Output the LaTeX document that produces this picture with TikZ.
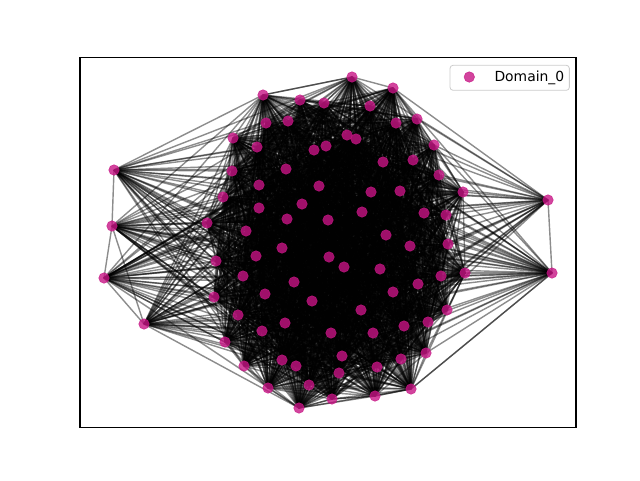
\documentclass[tikz,border=0pt]{standalone}
\usepackage{fontspec}
\setmainfont{DejaVu Sans}
\definecolor{mvr}{RGB}{199,21,133}
\definecolor{legframe}{RGB}{204,204,204}
\begin{document}
\begin{tikzpicture}[x=1pt,y=-1pt,
  vtx/.style={circle,fill=mvr,fill opacity=0.8,draw=mvr,draw opacity=0.8,line width=0.5pt,minimum size=10.5pt,inner sep=0pt},
  lnk/.style={black,draw opacity=0.45,line width=1.4pt},
  legbox/.style={draw=legframe,line width=0.8pt,rounded corners=3pt,fill=white,fill opacity=0.8,minimum width=119.3pt,minimum height=25pt,inner sep=0pt},
  legtext/.style={anchor=west,inner sep=0pt,font=\fontsize{13.9}{16}\selectfont}]
\useasboundingbox (0,0) rectangle (640,480);
\foreach \k/\x/\y in {
1/352/77, 2/393/88, 3/263/95, 4/300/100, 5/324/103, 6/370/106, 7/417/119, 8/266/123,
9/288/121, 10/396/123, 11/347/135, 12/356/139, 13/233/138, 14/257/147, 15/314/150,
16/326/146, 17/434/145, 18/383/162, 19/413/160, 20/286/169, 21/232/171, 22/439/175,
23/259/185, 24/319/186, 25/371/192, 26/400/191, 27/463/192, 28/223/197, 29/302/204,
30/259/208, 31/287/219, 32/328/220, 33/362/212, 34/424/213, 35/446/215, 36/207/223,
37/246/231, 38/386/235, 39/282/248, 40/410/246, 41/448/244, 42/216/261, 43/256/256,
44/329/257, 45/243/276, 46/294/282, 47/214/297, 48/265/294, 49/312/301, 50/238/315,
51/285/323, 52/262/331, 53/331/333, 54/225/342, 55/282/360, 56/296/366, 57/244/366,
58/309/385, 59/268/388, 60/299/408, 61/332/399, 62/465/273, 63/441/276, 64/344/267,
65/380/269, 66/418/284, 67/393/292, 68/447/310, 69/361/310, 70/428/322, 71/404/326,
72/373/333, 73/426/353, 74/342/356, 75/401/359, 76/377/367, 77/339/373, 78/411/389,
79/375/396, 80/114/170, 81/112/226, 82/104/278, 83/144/324, 84/548/200, 85/552/273}
  \coordinate (n\k) at (\x,\y);
% edges
\pgfmathsetseed{7}
\foreach \i in {1,...,84}{
  \pgfmathtruncatemacro\jstart{\i+1}
  \foreach \j in {\jstart,...,85}{
    \pgfmathsetmacro\r{rnd}
    \ifnum\j<80 \def\p{0.75}\else\ifnum\i<80 \def\p{0.45}\else\def\p{-1}\fi\fi
    \pgfmathtruncatemacro\ok{\r<\p}
    \ifnum\ok=1 \draw[lnk] (n\i) -- (n\j);\fi
  }
}
\foreach \a/\b in {80/3,3/1,1/2,2/84,84/85,85/78,78/79,79/61,61/60,60/83,83/82,82/81,81/80,83/81}
  \draw[lnk] (n\a) -- (n\b);
% nodes
\foreach \k in {1,...,85}
  \node[vtx] (v\k) at (n\k) {};
% axes frame
\draw[line width=1.1pt] (80,57.6) rectangle (576,427.2);
% legend
\node[legbox] (leg) at (509.7,77.8) {};
\node[vtx] (legmark) at (469.3,77) {};
\node[legtext] (legtxt) at (494.3,77.5) {Domain\_0};
\end{tikzpicture}
\end{document}
